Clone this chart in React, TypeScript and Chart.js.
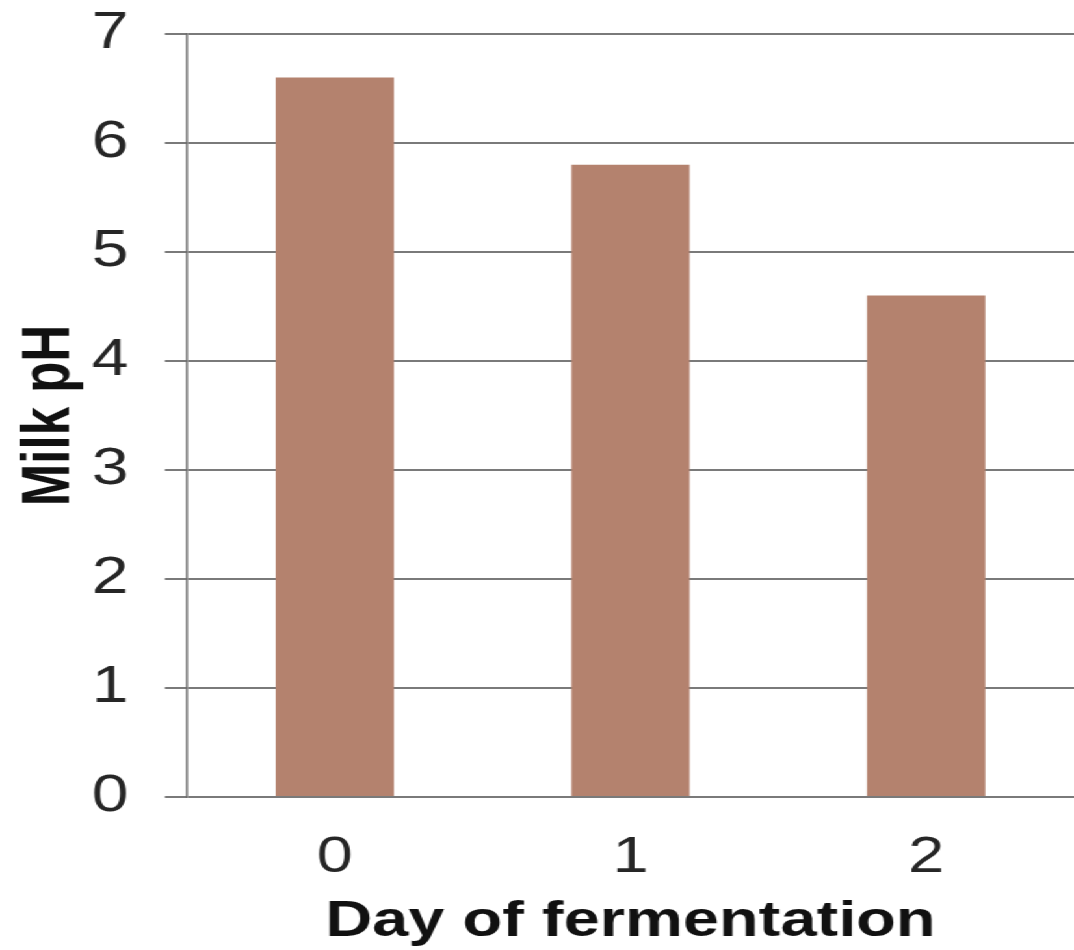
import React, { useEffect, useRef } from 'react';
import { Chart, registerables } from 'chart.js';

Chart.register(...registerables);

const categories = ['0', '1', '2'];
const phValues = [6.6, 5.8, 4.6];
const yTickValues = [0, 1, 2, 3, 4, 5, 6, 7];
const xTitle = 'Day of fermentation';
const yTitle = 'Milk pH';

const W = 826;
const H = 950;
const SX = 1074 / W;
const FAMILY = '"Liberation Sans", Arial, Helvetica, sans-serif';

export default function App() {
  const ref = useRef<HTMLCanvasElement>(null);

  useEffect(() => {
    const chart = new Chart(ref.current as HTMLCanvasElement, {
      type: 'bar',
      data: {
        labels: categories,
        datasets: [
          {
            data: phValues,
            backgroundColor: '#b4826e',
            barPercentage: 0.4,
            categoryPercentage: 1,
          },
        ],
      },
      options: {
        responsive: false,
        animation: false,
        devicePixelRatio: 1,
        layout: { padding: { top: 34, right: 0, bottom: 0, left: 0 } },
        plugins: { legend: { display: false }, tooltip: { enabled: false } },
        scales: {
          x: {
            grid: { display: false },
            border: { display: false },
            ticks: { font: { family: FAMILY, size: 50 }, color: '#262626', padding: 23 },
            title: {
              display: true,
              text: xTitle,
              font: { family: FAMILY, size: 50, weight: 'bold', lineHeight: 1.1 },
              color: '#111',
              padding: { top: 0, bottom: 0 },
            },
            afterFit: (s: any) => {
              s.height = 153;
              s.paddingLeft = 0;
              s.paddingRight = 0;
            },
          },
          y: {
            min: 0,
            max: 7,
            afterBuildTicks: (s: any) => {
              s.ticks = yTickValues.map((v) => ({ value: v }));
            },
            ticks: { font: { family: FAMILY, size: 51 }, color: '#262626', padding: 28 },
            grid: { color: '#7a7a7a', lineWidth: 2, tickLength: 17 },
            border: { display: true, color: '#6a6a6a', width: 1.5 },
            title: {
              display: true,
              text: yTitle,
              font: { family: FAMILY, size: 51, weight: 'bold' },
              color: '#111',
              padding: { top: 8, bottom: 0 },
            },
            afterFit: (s: any) => {
              s.width = 143.8;
              s.paddingTop = 0;
              s.paddingBottom = 0;
            },
          },
        },
      },
    } as any);
    return () => chart.destroy();
  }, []);

  return (
    <div
      style={{
        position: 'fixed',
        left: 0,
        top: 0,
        width: W,
        height: H,
        transform: `scaleX(${SX})`,
        transformOrigin: '0 0',
        background: '#fff',
      }}
    >
      <canvas ref={ref} width={W} height={H} style={{ display: 'block' }} />
    </div>
  );
}
